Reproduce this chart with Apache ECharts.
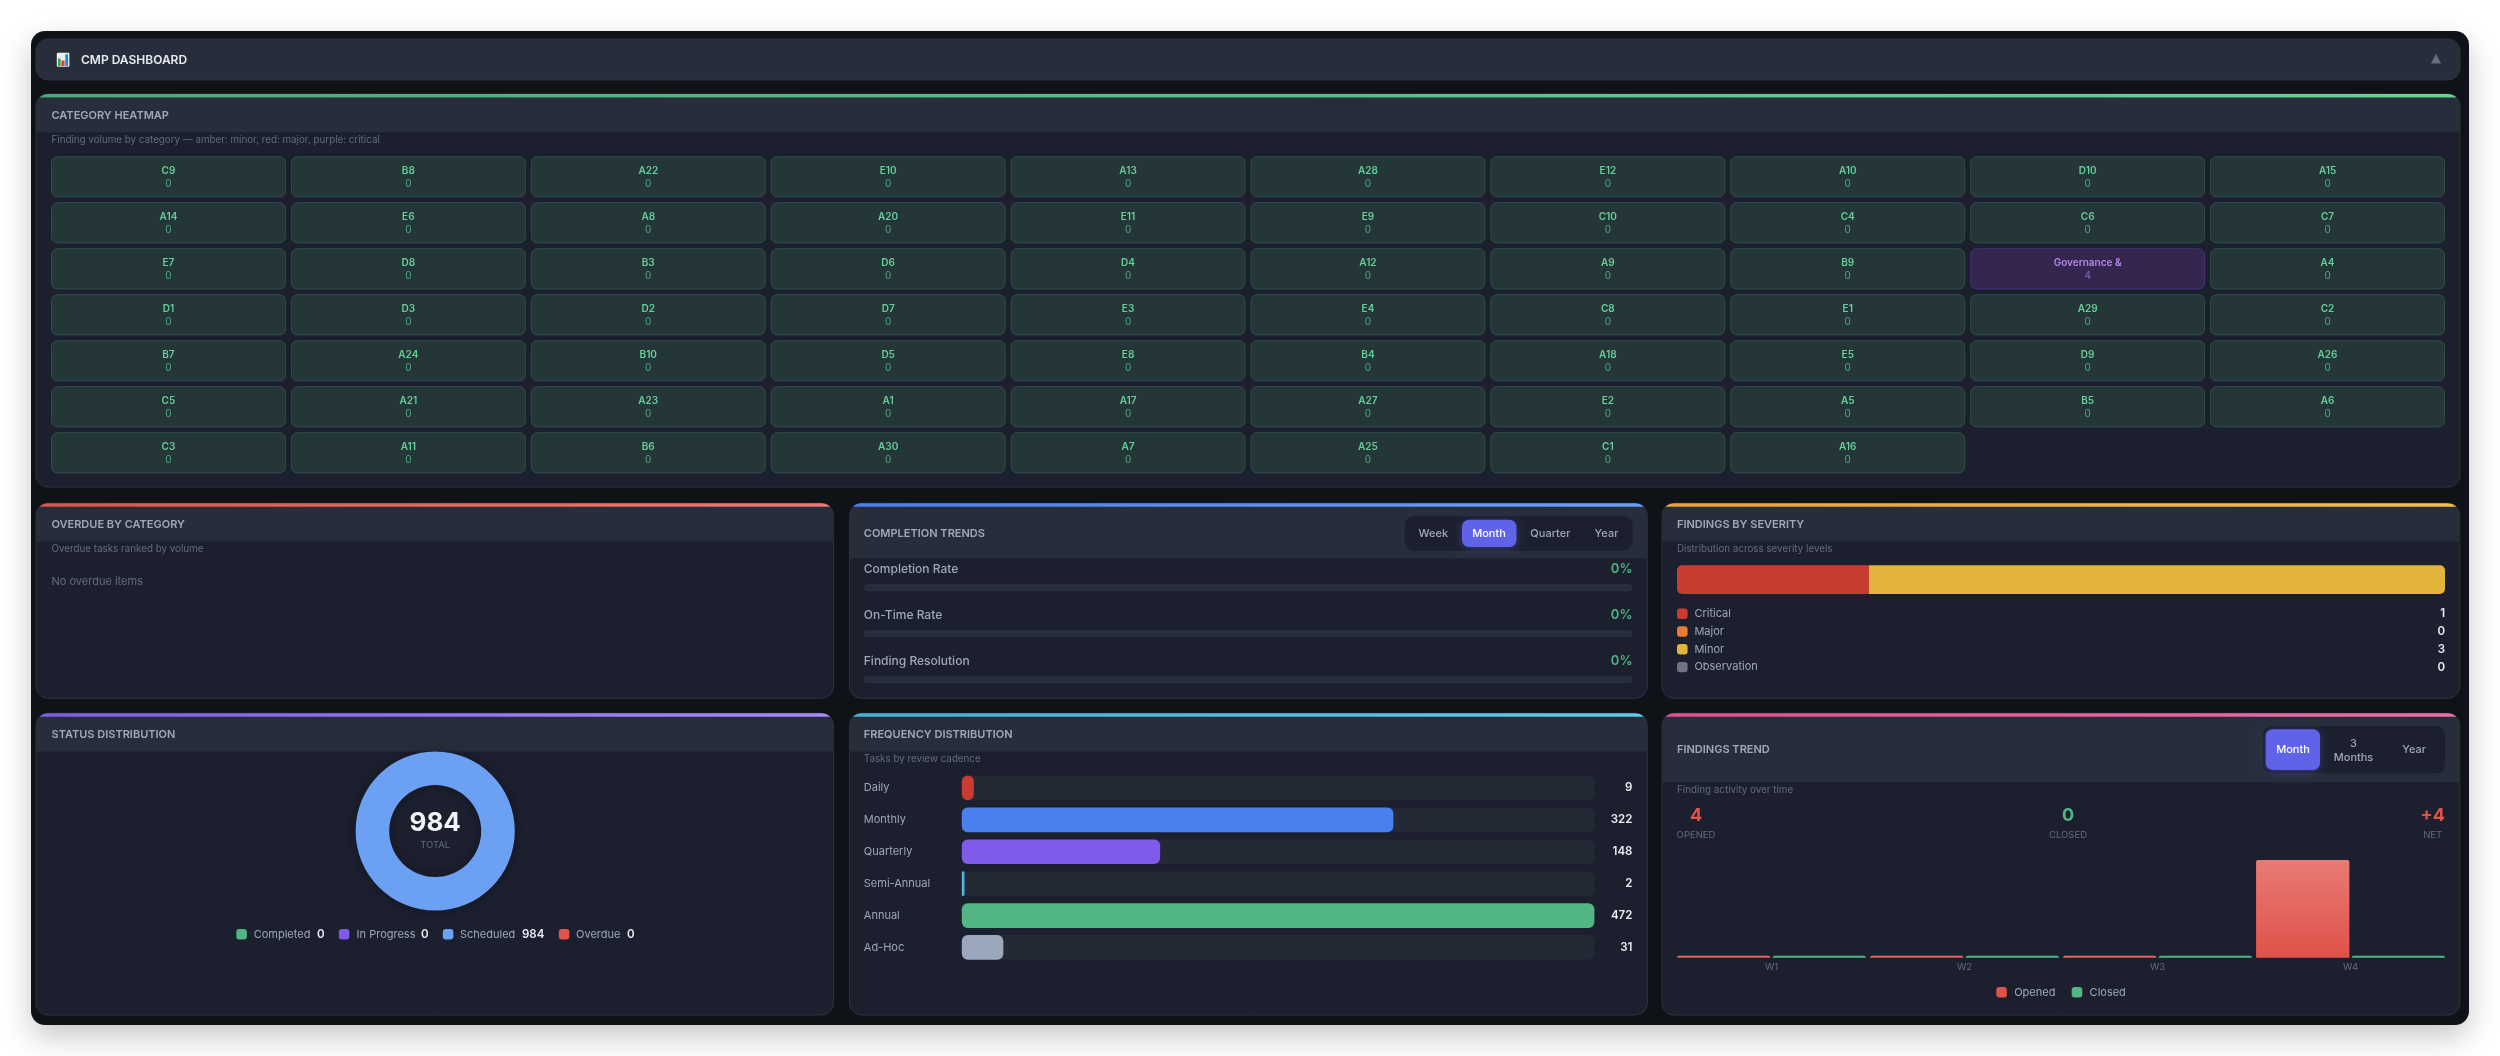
<!DOCTYPE html>
<html>
<head>
<meta charset="utf-8">
<title>CMP Dashboard</title>
<script src="https://cdn.jsdelivr.net/npm/echarts@6/dist/echarts.min.js"></script>
<style>
    html, body { margin: 0; padding: 0; background: #fff; }
    #main { width: 2500px; height: 1056px; }
</style>
</head>
<body>
<div id="main"></div>
<script>
// 数据
const heatCategories = [
    "C9", "B8", "A22", "E10", "A13", "A28", "E12", "A10", "D10", "A15",
    "A14", "E6", "A8", "A20", "E11", "E9", "C10", "C4", "C6", "C7",
    "E7", "D8", "B3", "D6", "D4", "A12", "A9", "B9", "Governance &", "A4",
    "D1", "D3", "D2", "D7", "E3", "E4", "C8", "E1", "A29", "C2",
    "B7", "A24", "B10", "D5", "E8", "B4", "A18", "E5", "D9", "A26",
    "C5", "A21", "A23", "A1", "A17", "A27", "E2", "A5", "B5", "A6",
    "C3", "A11", "B6", "A30", "A7", "A25", "C1", "A16"
];
const heatValues = [
    0, 0, 0, 0, 0, 0, 0, 0, 0, 0,
    0, 0, 0, 0, 0, 0, 0, 0, 0, 0,
    0, 0, 0, 0, 0, 0, 0, 0, 4, 0,
    0, 0, 0, 0, 0, 0, 0, 0, 0, 0,
    0, 0, 0, 0, 0, 0, 0, 0, 0, 0,
    0, 0, 0, 0, 0, 0, 0, 0, 0, 0,
    0, 0, 0, 0, 0, 0, 0, 0
];
const progressNames = ["Completion Rate", "On-Time Rate", "Finding Resolution"];
const progressValues = [0, 0, 0];
const severityNames = ["Critical", "Major", "Minor", "Observation"];
const severityValues = [1, 0, 3, 0];
const severityColors = ["#c93c31", "#ea7b33", "#e2b43c", "#6f7285"];
const statusNames = ["Completed", "In Progress", "Scheduled", "Overdue"];
const statusValues = [0, 0, 984, 0];
const statusColors = ["#52b584", "#805ae8", "#6ca0f3", "#e0534a"];
const freqNames = ["Daily", "Monthly", "Quarterly", "Semi-Annual", "Annual", "Ad-Hoc"];
const freqValues = [9, 322, 148, 2, 472, 31];
const freqColors = ["#c93c31", "#4a7fee", "#805ae8", "#4db6d9", "#52b584", "#9aa7bd"];
const trendWeeks = ["W1", "W2", "W3", "W4"];
const trendOpened = [0, 0, 0, 4];
const trendClosed = [0, 0, 0, 0];

const FONT = "Inter, 'Noto Sans', sans-serif";
const C_BODY = "#1b1f2e";
const C_HEAD = "#272d3b";
const C_EDGE = "#2d3343";
const C_TITLE = "#a0a8b8";
const C_MUTED = "#646b7e";
const C_LABEL = "#a0a8b8";
const C_VALUE = "#e9edf2";

// 文本
function txt(text, x, y, size, fill, opt) {
    opt = opt || {};
    return {
        type: "text",
        x: x,
        y: y,
        z: 10,
        silent: true,
        style: {
            text: String(text),
            fill: fill,
            fontFamily: opt.font || FONT,
            fontSize: size,
            fontWeight: opt.weight || 400,
            textAlign: opt.align || "left",
            align: opt.align || "left",
            verticalAlign: "middle",
            textVerticalAlign: "middle"
        }
    };
}

// 圆角矩形内 yFrom ~ yTo 这一段的多边形（卡片顶部色条、表头用）
function roundedSlice(x, y, w, r, yFrom, yTo) {
    const left = [], right = [];
    for (let yy = yFrom; yy <= yTo + 0.001; yy += 0.5) {
        const d = yy < r ? r - Math.sqrt(r * r - (r - yy) * (r - yy)) : 0;
        left.push([x + d, y + yy]);
        right.unshift([x + w - d, y + yy]);
    }
    return left.concat(right);
}

// 卡片外框
function card(x, y, w, h, headH, c1, c2) {
    const r = 12, barH = 3.8;
    return [
        { type: "rect", z: 1, shape: { x: x, y: y, width: w, height: h, r: r }, style: { fill: C_BODY, stroke: C_EDGE, lineWidth: 1 } },
        { type: "polygon", z: 1, shape: { points: roundedSlice(x, y, w, r, barH, headH) }, style: { fill: C_HEAD } },
        {
            type: "polygon", z: 1, shape: { points: roundedSlice(x, y, w, r, 0, barH) },
            style: { fill: new echarts.graphic.LinearGradient(0, 0, 1, 0, [{ offset: 0, color: c1 }, { offset: 1, color: c2 }]) }
        }
    ];
}

// 小圆点
function dot(x, y, color) {
    return { type: "rect", z: 10, shape: { x: x, y: y - 5.2, width: 10.6, height: 10.4, r: 3 }, style: { fill: color } };
}

// 切换按钮
function toggle(box, active, labels) {
    const list = [
        { type: "rect", z: 1, shape: { x: box[0], y: box[1], width: box[2], height: box[3], r: 9 }, style: { fill: C_BODY } },
        {
            type: "rect", z: 1, shape: { x: active[0], y: active[1], width: active[2], height: active[3], r: 7 },
            style: { fill: "#6063e8", shadowBlur: 10, shadowColor: "rgba(96,99,232,0.35)", shadowOffsetY: 2 }
        }
    ];
    labels.forEach(function (l) {
        list.push(txt(l[0], l[1], l[2], 11, l[3] ? "#ffffff" : C_LABEL, { align: "center", weight: 500 }));
    });
    return list;
}

function buildGraphic() {
    let g = [];
    // 外层面板
    g.push({
        type: "rect", z: 0,
        shape: { x: 31, y: 31, width: 2438, height: 994, r: 14 },
        style: { fill: "#0f1318", shadowBlur: 30, shadowColor: "rgba(0,0,0,0.22)", shadowOffsetY: 12 }
    });
    // 顶部标题条
    g.push({ type: "rect", z: 1, shape: { x: 36, y: 39, width: 2424, height: 41, r: 12 }, style: { fill: C_HEAD, stroke: C_EDGE, lineWidth: 1 } });
    g.push({ type: "rect", z: 2, shape: { x: 56.8, y: 52.8, width: 12.6, height: 14, r: 1 }, style: { fill: "#eef1f4" } });
    g.push({ type: "rect", z: 2, shape: { x: 58, y: 58.5, width: 2.7, height: 7.5 }, style: { fill: "#43a047" } });
    g.push({ type: "rect", z: 2, shape: { x: 61.4, y: 60.5, width: 3.2, height: 5.5 }, style: { fill: "#e53935" } });
    g.push({ type: "rect", z: 2, shape: { x: 65.3, y: 54.3, width: 2.8, height: 11.7 }, style: { fill: "#1e88e5" } });
    g.push(txt("CMP DASHBOARD", 81, 60, 12, "#e8ecf2", { weight: 600 }));
    g.push(txt("▲", 2436, 59, 13, "#666d80", { align: "center", font: "'DejaVu Sans'" }));

    // 卡片
    g = g.concat(card(36, 94, 2424, 393, 38.7, "#4aa97c", "#68d391"));
    g.push(txt("CATEGORY HEATMAP", 51.5, 115.7, 11, C_TITLE, { weight: 600 }));
    g.push(txt("Finding volume by category — amber: minor, red: major, purple: critical", 51.5, 140, 9.8, C_MUTED));

    g = g.concat(card(36, 503.3, 797.6, 195, 38.4, "#e0534a", "#ed7a72"));
    g.push(txt("OVERDUE BY CATEGORY", 51.5, 524.7, 11, C_TITLE, { weight: 600 }));
    g.push(txt("Overdue tasks ranked by volume", 51.5, 549.3, 9.8, C_MUTED));
    g.push(txt("No overdue items", 51.5, 581.7, 11, C_MUTED));

    g = g.concat(card(849.5, 503.3, 797.8, 195, 55.7, "#4a7fee", "#6ca0f3"));
    g.push(txt("COMPLETION TRENDS", 863.8, 533.7, 11, C_TITLE, { weight: 600 }));
    g = g.concat(toggle([1404.8, 516, 227.7, 34.7], [1462, 519.7, 54.5, 27.3], [
        ["Week", 1433.4, 533.7], ["Month", 1489, 533.7, true], ["Quarter", 1550.4, 533.7], ["Year", 1606.5, 533.7]
    ]));
    progressNames.forEach(function (name, i) {
        g.push(txt(name, 863.8, 569 + i * 46, 12, C_LABEL, { weight: 500 }));
        g.push(txt(progressValues[i] + "%", 1632.5, 569.5 + i * 46, 13, "#52b584", { align: "right", weight: 600 }));
    });

    g = g.concat(card(1662, 503.3, 797.8, 195, 38.4, "#eda432", "#f6c244"));
    g.push(txt("FINDINGS BY SEVERITY", 1677, 524.7, 11, C_TITLE, { weight: 600 }));
    g.push(txt("Distribution across severity levels", 1677, 549.3, 9.8, C_MUTED));
    severityNames.forEach(function (name, i) {
        const yy = 613.7 + i * 17.8;
        g.push(dot(1677, yy, severityColors[i]));
        g.push(txt(name, 1694.4, yy, 11, C_LABEL));
        g.push(txt(severityValues[i], 2445, yy, 11.5, C_VALUE, { align: "right", weight: 600 }));
    });

    g = g.concat(card(36, 713.3, 797.6, 301.7, 38.4, "#7c5de8", "#a78bfa"));
    g.push(txt("STATUS DISTRIBUTION", 51.5, 734.7, 11, C_TITLE, { weight: 600 }));
    g.push(txt(statusValues.reduce(function (a, b) { return a + b; }, 0), 435.2, 823, 26, "#f1f4f8", { align: "center", weight: 700 }));
    g.push(txt("TOTAL", 435.2, 845.3, 9.5, C_MUTED, { align: "center" }));
    const statusX = [236.3, 338.8, 442.8, 558.8];
    const statusTextX = [253.7, 356.6, 460, 576];
    const statusValX = [317, 421, 522, 627];
    statusNames.forEach(function (name, i) {
        g.push(dot(statusX[i], 934.3, statusColors[i]));
        g.push(txt(name, statusTextX[i], 934.3, 11, C_LABEL));
        g.push(txt(statusValues[i], statusValX[i], 934.3, 11.5, C_VALUE, { weight: 600 }));
    });

    g = g.concat(card(849.5, 713.3, 797.8, 301.7, 38.4, "#47b0d3", "#62cbe6"));
    g.push(txt("FREQUENCY DISTRIBUTION", 863.8, 734.7, 11, C_TITLE, { weight: 600 }));
    g.push(txt("Tasks by review cadence", 863.8, 759, 9.8, C_MUTED));

    g = g.concat(card(1662, 713.3, 797.8, 301.7, 69, "#e0508f", "#ec6fa8"));
    g.push(txt("FINDINGS TREND", 1677, 750, 11, C_TITLE, { weight: 600 }));
    g = g.concat(toggle([2262.5, 726, 182.5, 47.3], [2265.7, 729.3, 54.3, 40.7], [
        ["Month", 2293, 750, true], ["3", 2353.5, 743.3], ["Months", 2353.5, 757.5], ["Year", 2414.2, 750]
    ]));
    g.push(txt("Finding activity over time", 1677, 790, 9.8, C_MUTED));
    const opened = trendOpened.reduce(function (a, b) { return a + b; }, 0);
    const closed = trendClosed.reduce(function (a, b) { return a + b; }, 0);
    g.push(txt(opened, 1696, 816, 18, "#e0534a", { align: "center", weight: 700 }));
    g.push(txt("OPENED", 1696, 835, 9.5, C_MUTED, { align: "center" }));
    g.push(txt(closed, 2068, 816, 18, "#52b584", { align: "center", weight: 700 }));
    g.push(txt("CLOSED", 2068, 835, 9.5, C_MUTED, { align: "center" }));
    g.push(txt("+" + (opened - closed), 2445, 816, 18, "#e0534a", { align: "right", weight: 700 }));
    g.push(txt("NET", 2432.7, 835, 9.5, C_MUTED, { align: "center" }));
    g.push(dot(1996.3, 992.3, "#e0534a"));
    g.push(txt("Opened", 2014.2, 992.3, 11, C_LABEL));
    g.push(dot(2071.7, 992.3, "#52b584"));
    g.push(txt("Closed", 2089.6, 992.3, 11, C_LABEL));
    return g;
}

// 热力图单元格
function renderCell(params, api) {
    const p = api.coord([api.value(0), api.value(1)]);
    const band = api.size([1, 1]);
    const w = band[0] - 6, h = band[1] - 5.8;
    const hot = api.value(2) > 0;
    return {
        type: "group",
        children: [
            {
                type: "rect",
                shape: { x: p[0] - w / 2, y: p[1] - h / 2, width: w, height: h, r: 6 },
                style: { fill: hot ? "#34264f" : "#253638", stroke: hot ? "#4a2e7c" : "#2f4f4b", lineWidth: 1 }
            },
            {
                type: "text", x: p[0], y: p[1] - 6.3,
                style: {
                    text: heatCategories[params.dataIndex], fill: hot ? "#b487ea" : "#66cf9a",
                    fontFamily: FONT, fontSize: 10, fontWeight: 600, align: "center", verticalAlign: "middle"
                }
            },
            {
                type: "text", x: p[0], y: p[1] + 6.8,
                style: {
                    text: String(api.value(2)), fill: hot ? "#8f60d0" : "#4ea880",
                    fontFamily: FONT, fontSize: 10, align: "center", verticalAlign: "middle"
                }
            }
        ]
    };
}

const chart = echarts.init(document.getElementById("main"), null, { renderer: "canvas", devicePixelRatio: 1 });

const severityTotal = severityValues.reduce(function (a, b) { return a + b; }, 0);
const freqMax = Math.max.apply(null, freqValues);

const option = {
    animation: false,
    backgroundColor: "#ffffff",
    textStyle: { fontFamily: FONT },
    graphic: { elements: buildGraphic() },
    grid: [
        { left: 48.5, top: 153.8, width: 2399, height: 322 },      // 热力图
        { left: 863.8, top: 564.7, width: 768.7, height: 138 },    // 完成率
        { left: 1677, top: 565.3, width: 768, height: 28.7 },      // 严重程度
        { left: 961.8, top: 772, width: 632.6, height: 191.4 },    // 频率
        { left: 1675, top: 860, width: 772, height: 97.7 }         // 趋势
    ],
    xAxis: [
        { gridIndex: 0, type: "category", show: false, data: [0, 1, 2, 3, 4, 5, 6, 7, 8, 9] },
        { gridIndex: 1, type: "value", show: false, min: 0, max: 100 },
        { gridIndex: 2, type: "value", show: false, min: 0, max: severityTotal },
        { gridIndex: 3, type: "value", show: false, min: 0, max: freqMax },
        {
            gridIndex: 4, type: "category", data: trendWeeks, z: 5,
            axisLine: { show: false }, axisTick: { show: false },
            axisLabel: { color: C_MUTED, fontSize: 9.5, margin: 4, fontFamily: FONT }
        }
    ],
    yAxis: [
        { gridIndex: 0, type: "category", show: false, inverse: true, data: [0, 1, 2, 3, 4, 5, 6] },
        { gridIndex: 1, type: "category", show: false, inverse: true, data: progressNames },
        { gridIndex: 2, type: "category", show: false, data: ["Severity"] },
        {
            gridIndex: 3, type: "category", inverse: true, data: freqNames, z: 5,
            axisLine: { show: false }, axisTick: { show: false },
            axisLabel: { color: C_LABEL, fontSize: 11, align: "left", margin: 98, fontFamily: FONT }
        },
        {
            gridIndex: 3, type: "category", inverse: true, position: "right", data: freqValues.map(String), z: 5,
            axisLine: { show: false }, axisTick: { show: false },
            axisLabel: { color: C_VALUE, fontSize: 11.5, fontWeight: 600, align: "right", margin: 38, fontFamily: FONT }
        },
        { gridIndex: 4, type: "value", show: false, min: 0, max: 4 }
    ],
    series: [
        {
            name: "Category Heatmap", type: "custom", xAxisIndex: 0, yAxisIndex: 0,
            renderItem: renderCell, encode: { x: 0, y: 1 },
            data: heatValues.map(function (v, i) { return [i % 10, Math.floor(i / 10), v]; })
        },
        {
            name: "Completion Trends", type: "bar", xAxisIndex: 1, yAxisIndex: 1, data: progressValues, barWidth: 7.3,
            showBackground: true, backgroundStyle: { color: "#272d3b", borderRadius: 3.6 },
            itemStyle: { color: "#52b584", borderRadius: 3.6 }
        }
    ].concat(severityNames.map(function (name, i) {
        return {
            name: name, type: "bar", stack: "severity", xAxisIndex: 2, yAxisIndex: 2, barWidth: "100%",
            data: [severityValues[i]],
            itemStyle: { color: severityColors[i], borderRadius: i === 0 ? [5, 0, 0, 5] : [0, 5, 5, 0] }
        };
    })).concat([
        {
            name: "Status Distribution", type: "pie", center: [435.2, 831], radius: [46, 79.6], silent: true,
            label: { show: false }, labelLine: { show: false },
            itemStyle: { shadowBlur: 12, shadowColor: "rgba(0,0,0,0.3)" },
            data: statusNames.map(function (name, i) {
                return { name: name, value: statusValues[i], itemStyle: { color: statusColors[i] } };
            })
        },
        {
            name: "Frequency Distribution", type: "bar", xAxisIndex: 3, yAxisIndex: 3, barWidth: 24.7,
            showBackground: true, backgroundStyle: { color: "#242936", borderRadius: 6 },
            itemStyle: { borderRadius: 6 },
            data: freqValues.map(function (v, i) { return { value: v, itemStyle: { color: freqColors[i] } }; })
        },
        {
            name: "Opened", type: "bar", xAxisIndex: 4, yAxisIndex: 5, data: trendOpened,
            barWidth: 93.3, barGap: "2.4%", barMinHeight: 2,
            itemStyle: {
                borderRadius: [2, 2, 0, 0],
                color: new echarts.graphic.LinearGradient(0, 0, 0, 1, [{ offset: 0, color: "#e87b74" }, { offset: 1, color: "#df5249" }])
            }
        },
        {
            name: "Closed", type: "bar", xAxisIndex: 4, yAxisIndex: 5, data: trendClosed,
            barWidth: 93.3, barMinHeight: 2,
            itemStyle: { borderRadius: [2, 2, 0, 0], color: "#52b584" }
        }
    ])
};
chart.setOption(option);
</script>
</body>
</html>
